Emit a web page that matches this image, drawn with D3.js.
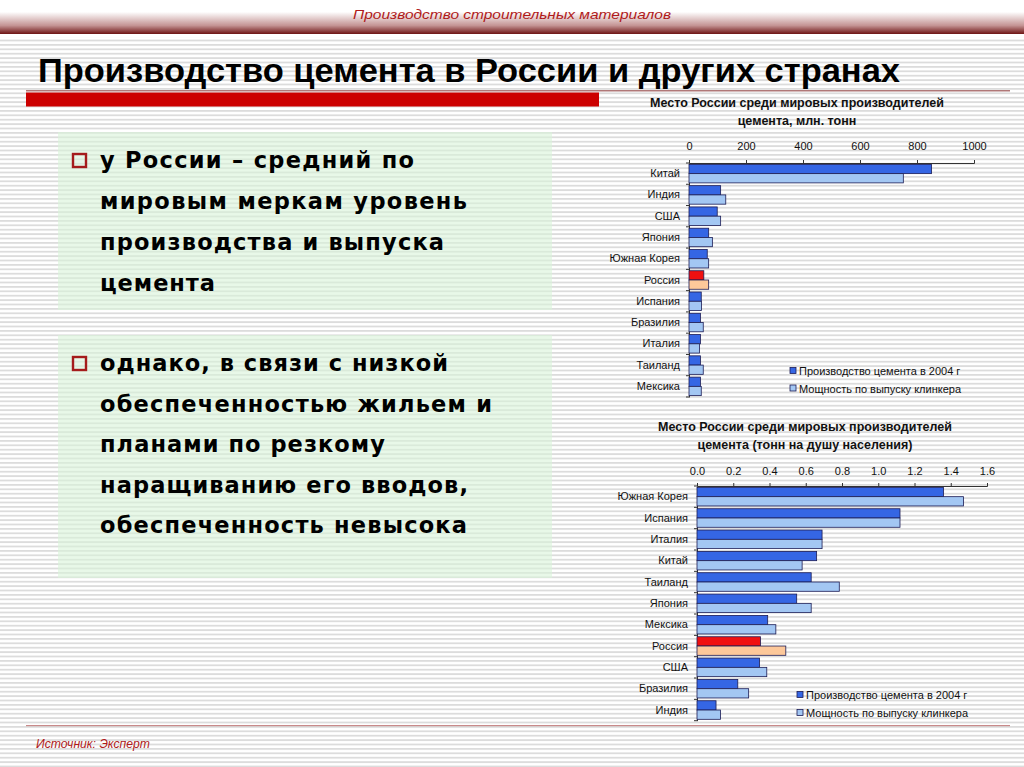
<!DOCTYPE html>
<html>
<head>
<meta charset="utf-8">
<script src="https://cdn.jsdelivr.net/npm/d3@7"></script>
<style>
  html, body { margin: 0; padding: 0; background: #fff; }
  svg { display: block; }
</style>
</head>
<body>
<svg id="slide" width="1024" height="767"></svg>
<script>
// ---------- DATA ----------
const seriesNames = ["Производство цемента в 2004 г", "Мощность по выпуску клинкера"];
const highlightCountry = "Россия";

const topCategories = ["Китай", "Индия", "США", "Япония", "Южная Корея", "Россия", "Испания", "Бразилия", "Италия", "Таиланд", "Мексика"];
const topProduction = [851, 111, 99, 69, 64, 52, 43, 40, 40, 40, 40];
const topClinker    = [752, 129, 111, 82, 69, 69, 44, 50, 37, 50, 43];
const topTicks = [0, 200, 400, 600, 800, 1000];
const topTitle = ["Место России среди мировых производителей", "цемента, млн. тонн"];

const bottomCategories = ["Южная Корея", "Испания", "Италия", "Китай", "Таиланд", "Япония", "Мексика", "Россия", "США", "Бразилия", "Индия"];
const bottomProduction = [1.36, 1.12, 0.69, 0.66, 0.63, 0.55, 0.39, 0.35, 0.345, 0.225, 0.105];
const bottomClinker    = [1.47, 1.12, 0.69, 0.58, 0.785, 0.63, 0.435, 0.49, 0.385, 0.285, 0.13];
const bottomTicks = [0, 0.2, 0.4, 0.6, 0.8, 1.0, 1.2, 1.4, 1.6];
const bottomTitle = ["Место России среди мировых производителей", "цемента (тонн на душу населения)"];

const headerText = "Производство строительных материалов";
const mainTitle = "Производство цемента в России и других странах";
const bullet1 = ["у России – средний по", "мировым меркам уровень", "производства и выпуска", "цемента"];
const bullet2 = ["однако, в связи с низкой", "обеспеченностью жильем и", "планами по резкому", "наращиванию его вводов,", "обеспеченность невысока"];
const sourceText = "Источник: Эксперт";

// ---------- DRAW ----------
const svg = d3.select("#slide");
const defs = svg.append("defs");

const stripe = defs.append("pattern").attr("id", "stripes")
  .attr("patternUnits", "userSpaceOnUse").attr("width", 20).attr("height", 4.4);
stripe.append("rect").attr("width", 20).attr("height", 4.4).attr("fill", "#ffffff");
stripe.append("rect").attr("y", 0).attr("width", 20).attr("height", 1.8).attr("fill", "#dcdcdc");

const hg = defs.append("linearGradient").attr("id", "headGrad").attr("x1", 0).attr("y1", 0).attr("x2", 0).attr("y2", 1);
hg.append("stop").attr("offset", "0%").attr("stop-color", "#ffffff");
hg.append("stop").attr("offset", "35%").attr("stop-color", "#ffffff");
hg.append("stop").attr("offset", "75%").attr("stop-color", "#c49494");
hg.append("stop").attr("offset", "100%").attr("stop-color", "#6e1414");

svg.append("rect").attr("width", 1024).attr("height", 767).attr("fill", "url(#stripes)");
svg.append("rect").attr("width", 1024).attr("height", 34).attr("fill", "url(#headGrad)");
svg.append("rect").attr("y", 34).attr("width", 1024).attr("height", 3).attr("fill", "#ffffff");

svg.append("text").attr("x", 512).attr("y", 19).attr("text-anchor", "middle")
  .attr("font-family", "Liberation Sans Narrow, Liberation Sans, Arial").attr("font-style", "italic")
  .attr("font-size", 13).attr("fill", "#b01a1a")
  .attr("textLength", 318).attr("lengthAdjust", "spacingAndGlyphs")
  .text(headerText);

svg.append("text").attr("x", 38).attr("y", 82)
  .attr("font-family", "Liberation Sans Narrow, Liberation Sans, Arial").attr("font-weight", "bold")
  .attr("font-size", 34).attr("fill", "#000")
  .attr("textLength", 862).attr("lengthAdjust", "spacingAndGlyphs")
  .text(mainTitle);

svg.append("rect").attr("x", 26).attr("y", 90).attr("width", 984).attr("height", 1.5).attr("fill", "#b07878");
svg.append("rect").attr("x", 26).attr("y", 92.5).attr("width", 573).attr("height", 14).attr("fill", "#cc0000");

// Text boxes
function textBox(y0, h, lines, firstBaseline, spacing, widths) {
  svg.append("rect").attr("x", 58).attr("y", y0).attr("width", 494).attr("height", h)
    .attr("fill", "#d8f3d8").attr("opacity", 0.6);
  svg.append("rect").attr("x", 73).attr("y", firstBaseline - 14).attr("width", 13).attr("height", 13)
    .attr("fill", "none").attr("stroke", "#a51c1c").attr("stroke-width", 2.4);
  lines.forEach((t, i) => {
    svg.append("text").attr("x", 100).attr("y", firstBaseline + i * spacing)
      .attr("font-family", "DejaVu Sans, Verdana").attr("font-weight", "bold")
      .attr("font-size", 22.5).attr("fill", "#000")
      .attr("textLength", widths[i]).attr("lengthAdjust", "spacing")
      .text(t);
  });
}
textBox(132, 178, bullet1, 168, 41, [314, 367, 344, 115]);
textBox(335, 243, bullet2, 371, 40.5, [348, 392, 285, 368, 367]);

// Footer
svg.append("rect").attr("x", 26).attr("y", 725).attr("width", 984).attr("height", 1.2).attr("fill", "#c98a8a");
svg.append("text").attr("x", 36).attr("y", 748)
  .attr("font-family", "Liberation Sans Narrow, Liberation Sans, Arial").attr("font-style", "italic")
  .attr("font-size", 12).attr("fill", "#b01a1a")
  .attr("textLength", 114).attr("lengthAdjust", "spacingAndGlyphs")
  .text(sourceText);

// Charts
const colDark = "#3566e4", colLight = "#a3c7f3", colRed = "#f01010", colPeach = "#fdc89a";
const barStroke = "#1c1c55";

function drawChart(cfg) {
  const g = svg.append("g");
  const x = d3.scaleLinear().domain([cfg.ticks[0], cfg.ticks[cfg.ticks.length - 1]]).range([cfg.x0, cfg.x1]);
  const y = d3.scaleBand().domain(cfg.categories).range([cfg.y0, cfg.y1]).paddingInner(0.13).paddingOuter(0.065);
  const sub = d3.scaleBand().domain([0, 1]).range([0, y.bandwidth()]);

  // title
  cfg.title.forEach((t, i) => {
    g.append("text").attr("x", cfg.titleX).attr("y", cfg.titleY + i * cfg.titleGap).attr("text-anchor", "middle")
      .attr("font-family", "Liberation Sans, Arial").attr("font-weight", "bold").attr("font-size", 12.5)
      .attr("fill", "#111").text(t);
  });

  // x axis (top)
  const xa = g.append("g").attr("transform", `translate(0,${cfg.y0})`)
    .call(d3.axisTop(x).tickValues(cfg.ticks).tickSize(3).tickPadding(cfg.tickPad).tickFormat(cfg.fmt));
  xa.select(".domain").attr("stroke", "#333");
  xa.selectAll(".tick line").attr("stroke", "#333");
  xa.selectAll("text").attr("font-family", "Liberation Sans, Arial").attr("font-size", 11).attr("fill", "#111");

  // y axis
  const ya = g.append("g").attr("transform", `translate(${cfg.x0},0)`)
    .call(d3.axisLeft(y).tickSize(0).tickPadding(9));
  ya.select(".domain").attr("stroke", "#333");
  ya.selectAll("text").attr("font-family", "Liberation Sans, Arial").attr("font-size", 11).attr("fill", "#111");
  // category boundary ticks
  const bounds = cfg.categories.map(c => y(c) - y.step() * y.paddingInner() / 2).concat([cfg.y1]);
  g.selectAll(".btick").data(bounds).join("line")
    .attr("x1", cfg.x0 - 3).attr("x2", cfg.x0).attr("y1", d => d).attr("y2", d => d)
    .attr("stroke", "#333");

  // bars
  const rows = cfg.categories.map((c, i) => ({ c, v: [cfg.prod[i], cfg.clink[i]] }));
  rows.forEach(r => {
    r.v.forEach((v, k) => {
      const isHi = r.c === highlightCountry;
      const fill = k === 0 ? (isHi ? colRed : colDark) : (isHi ? colPeach : colLight);
      g.append("rect")
        .attr("x", x(0)).attr("y", y(r.c) + sub(k))
        .attr("width", x(v) - x(0)).attr("height", sub.bandwidth())
        .attr("fill", fill).attr("stroke", barStroke).attr("stroke-width", 0.8);
    });
  });

  // legend
  seriesNames.forEach((s, k) => {
    const ly = cfg.legY + k * cfg.legGap;
    g.append("rect").attr("x", cfg.legX).attr("y", ly - 3.5).attr("width", 6).attr("height", 6)
      .attr("fill", k === 0 ? colDark : colLight).attr("stroke", barStroke).attr("stroke-width", 0.8);
    g.append("text").attr("x", cfg.legX + 9).attr("y", ly + 4)
      .attr("font-family", "Liberation Sans, Arial").attr("font-size", 11).attr("fill", "#111").text(s);
  });
}

drawChart({
  categories: topCategories, prod: topProduction, clink: topClinker, ticks: topTicks,
  fmt: d3.format("d"), x0: 689, x1: 974, y0: 163, y1: 397, tickPad: 10,
  title: topTitle, titleX: 797, titleY: 107, titleGap: 18,
  legX: 790, legY: 371, legGap: 17.5
});
drawChart({
  categories: bottomCategories, prod: bottomProduction, clink: bottomClinker, ticks: bottomTicks,
  fmt: d3.format(".1f"), x0: 697, x1: 987, y0: 486, y1: 720.7, tickPad: 8,
  title: bottomTitle, titleX: 805, titleY: 431, titleGap: 18,
  legX: 797, legY: 695, legGap: 18
});
</script>
</body>
</html>
